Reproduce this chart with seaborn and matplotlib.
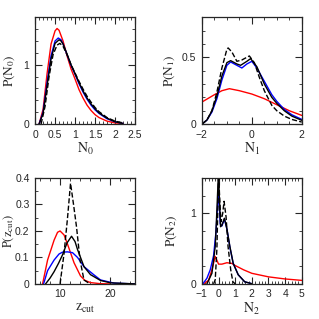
import numpy as np
import pandas as pd
import matplotlib
matplotlib.use('Agg')
import matplotlib.pyplot as plt
from matplotlib.ticker import MultipleLocator, FuncFormatter
import seaborn as sns

# --- panel 1: N0 ---
n0_red_x = [0.1, 0.2, 0.3, 0.4, 0.5, 0.55, 0.6, 0.7, 0.8, 0.9, 1.0, 1.1, 1.2, 1.3, 1.4, 1.5, 1.6, 1.8, 2.0, 2.2]
n0_red_y = [0.0, 0.25, 0.85, 1.35, 1.57, 1.61, 1.58, 1.40, 1.15, 0.93, 0.76, 0.58, 0.44, 0.32, 0.23, 0.16, 0.11, 0.05, 0.02, 0.01]
n0_blue_x = [0.1, 0.2, 0.3, 0.4, 0.5, 0.58, 0.65, 0.7, 0.8, 0.9, 1.0, 1.1, 1.2, 1.3, 1.4, 1.5, 1.6, 1.8, 2.0, 2.2]
n0_blue_y = [0.0, 0.2, 0.7, 1.15, 1.40, 1.45, 1.42, 1.35, 1.17, 0.99, 0.84, 0.68, 0.54, 0.42, 0.32, 0.24, 0.18, 0.09, 0.04, 0.01]
n0_black_x = [0.1, 0.2, 0.3, 0.4, 0.5, 0.6, 0.65, 0.7, 0.8, 0.9, 1.0, 1.1, 1.2, 1.3, 1.4, 1.5, 1.6, 1.8, 2.0, 2.2]
n0_black_y = [0.0, 0.18, 0.65, 1.1, 1.36, 1.42, 1.40, 1.35, 1.18, 1.0, 0.85, 0.70, 0.56, 0.44, 0.34, 0.26, 0.19, 0.10, 0.04, 0.01]
n0_dash_x = [0.15, 0.25, 0.35, 0.45, 0.55, 0.62, 0.7, 0.8, 0.9, 1.0, 1.1, 1.2, 1.3, 1.4, 1.5, 1.6, 1.8, 2.0, 2.2]
n0_dash_y = [0.0, 0.3, 0.8, 1.17, 1.33, 1.36, 1.31, 1.17, 1.0, 0.86, 0.72, 0.59, 0.47, 0.37, 0.28, 0.21, 0.11, 0.05, 0.02]

# --- panel 2: N1 ---
n1_red_x = [-2.0, -1.5, -1.2, -0.9, -0.5, 0.0, 0.5, 1.0, 1.5, 2.0]
n1_red_y = [0.165, 0.22, 0.25, 0.265, 0.25, 0.225, 0.19, 0.145, 0.10, 0.065]
n1_blue_x = [-2.0, -1.8, -1.6, -1.4, -1.2, -1.0, -0.85, -0.6, -0.4, -0.2, 0.0, 0.2, 0.5, 0.8, 1.0, 1.3, 1.6, 2.0]
n1_blue_y = [0.0, 0.03, 0.09, 0.19, 0.33, 0.44, 0.465, 0.44, 0.42, 0.45, 0.47, 0.42, 0.32, 0.22, 0.17, 0.11, 0.07, 0.035]
n1_black_x = [-2.0, -1.8, -1.6, -1.4, -1.2, -1.0, -0.85, -0.6, -0.45, -0.2, -0.05, 0.2, 0.5, 0.8, 1.0, 1.3, 1.6, 2.0]
n1_black_y = [0.0, 0.03, 0.10, 0.21, 0.36, 0.46, 0.475, 0.45, 0.44, 0.47, 0.49, 0.43, 0.30, 0.20, 0.155, 0.10, 0.06, 0.028]
n1_dash_x = [-2.0, -1.8, -1.6, -1.4, -1.2, -1.0, -0.95, -0.8, -0.6, -0.4, -0.1, 0.1, 0.3, 0.5, 0.8, 1.0, 1.3, 1.6, 2.0]
n1_dash_y = [0.0, 0.03, 0.10, 0.24, 0.42, 0.56, 0.57, 0.54, 0.47, 0.48, 0.51, 0.46, 0.35, 0.25, 0.14, 0.10, 0.06, 0.035, 0.015]

# --- panel 3: z_cut ---
z_red_x = [6.5, 7.5, 8.8, 9.5, 10.0, 10.8, 11.5, 12.8, 14.1, 15.0, 16.1, 18.0, 20.0]
z_red_y = [0.0, 0.09, 0.165, 0.195, 0.20, 0.185, 0.15, 0.08, 0.03, 0.013, 0.005, 0.001, 0.0]
z_blue_x = [6.7, 7.5, 8.8, 9.8, 10.5, 11.5, 12.5, 13.5, 14.8, 16.8, 18.1, 20.8, 25.0]
z_blue_y = [0.0, 0.05, 0.09, 0.113, 0.12, 0.121, 0.118, 0.10, 0.065, 0.034, 0.015, 0.003, 0.0]
z_black_x = [7.1, 8.0, 8.8, 9.7, 10.5, 11.4, 12.3, 13.0, 13.5, 14.8, 16.1, 18.1, 20.1, 25.0]
z_black_y = [0.0, 0.022, 0.046, 0.078, 0.11, 0.155, 0.18, 0.16, 0.13, 0.065, 0.035, 0.013, 0.004, 0.0]
z_dash_x = [10.0, 10.8, 11.5, 12.1, 12.7, 13.3, 14.0, 14.8, 16.0]
z_dash_y = [0.0, 0.115, 0.25, 0.38, 0.30, 0.215, 0.09, 0.015, 0.0]

# --- panel 4: N2 ---
n2_red_x = [-0.9, -0.6, -0.4, -0.2, 0.0, 0.2, 0.5, 0.8, 1.0, 1.5, 2.0, 3.0, 4.0, 5.0]
n2_red_y = [0.0, 0.05, 0.2, 0.39, 0.28, 0.28, 0.30, 0.29, 0.26, 0.20, 0.15, 0.10, 0.07, 0.05]
n2_blue_x = [-0.95, -0.7, -0.5, -0.3, -0.15, -0.05, 0.0, 0.1, 0.2, 0.35, 0.5, 0.68, 0.88, 1.18, 1.57, 1.97]
n2_blue_y = [0.0, 0.08, 0.2, 0.4, 0.75, 1.15, 1.31, 0.85, 0.82, 0.92, 0.78, 0.52, 0.29, 0.13, 0.03, 0.005]
n2_black_x = [-0.7, -0.4, -0.2, -0.1, -0.03, 0.0, 0.05, 0.12, 0.2, 0.35, 0.5, 0.68, 0.88, 1.18, 1.57, 1.97]
n2_black_y = [0.0, 0.15, 0.53, 1.05, 1.45, 1.6, 1.2, 0.81, 0.83, 0.93, 0.78, 0.53, 0.29, 0.13, 0.03, 0.005]
n2_dash_x = [-0.3, -0.2, -0.1, -0.03, 0.0, 0.05, 0.14, 0.25, 0.33, 0.45, 0.57, 0.73, 0.86, 1.0]
n2_dash_y = [0.0, 0.06, 0.5, 1.2, 1.6, 1.3, 0.88, 1.0, 1.17, 0.95, 0.53, 0.2, 0.03, 0.0]

sns.set_style('ticks')
plt.rcParams['font.family'] = ['Liberation Sans', 'DejaVu Sans']
plt.rcParams['mathtext.fontset'] = 'stix'

fig = plt.figure(figsize=(3.19, 3.19), dpi=100)
pos = [[0.110, 0.611, 0.313, 0.335], [0.633, 0.611, 0.313, 0.335],
       [0.110, 0.110, 0.313, 0.332], [0.633, 0.110, 0.313, 0.332]]
ylab_x = [-0.185, -0.25, -0.195, -0.23]
ylab_size = [9.5, 9.5, 9, 9.5]

fmt = FuncFormatter(lambda v, _: ('%g' % v).replace('-', '\u2212'))

panels = [
    dict(curves=[(n0_red_x, n0_red_y, 'red', '-'), (n0_blue_x, n0_blue_y, 'blue', '-'),
                 (n0_dash_x, n0_dash_y, 'black', '--'), (n0_black_x, n0_black_y, 'black', '-')],
         xlim=(0, 2.5), ylim=(0, 1.8), xmaj=0.5, xmin=0.1, ymaj=1, ymin=0.2,
         xlabel=r'$\mathrm{N_0}$', ylabel=r'$\mathrm{P(N_0)}$'),
    dict(curves=[(n1_red_x, n1_red_y, 'red', '-'), (n1_blue_x, n1_blue_y, 'blue', '-'),
                 (n1_dash_x, n1_dash_y, 'black', '--'), (n1_black_x, n1_black_y, 'black', '-')],
         xlim=(-2, 2), ylim=(0, 0.8), xmaj=2, xmin=0.5, ymaj=0.5, ymin=0.1,
         xlabel=r'$\mathrm{N_1}$', ylabel=r'$\mathrm{P(N_1)}$'),
    dict(curves=[(z_red_x, z_red_y, 'red', '-'), (z_blue_x, z_blue_y, 'blue', '-'),
                 (z_dash_x, z_dash_y, 'black', '--'), (z_black_x, z_black_y, 'black', '-')],
         xlim=(5, 25), ylim=(0, 0.4), xmaj=10, xmin=2, ymaj=0.1, ymin=0.05,
         xlabel=r'$\mathrm{z_{cut}}$', ylabel=r'$\mathrm{P(z_{cut})}$'),
    dict(curves=[(n2_red_x, n2_red_y, 'red', '-'), (n2_blue_x, n2_blue_y, 'blue', '-'),
                 (n2_dash_x, n2_dash_y, 'black', '--'), (n2_black_x, n2_black_y, 'black', '-')],
         xlim=(-1, 5), ylim=(0, 1.5), xmaj=1, xmin=0.2, ymaj=1, ymin=0.25,
         xlabel=r'$\mathrm{N_2}$', ylabel=r'$\mathrm{P(N_2)}$'),
]

for p, rect, lx, ls_ in zip(panels, pos, ylab_x, ylab_size):
    ax = fig.add_axes(rect)
    for xs, ys, col, ls in p['curves']:
        df = pd.DataFrame({'x': xs, 'y': ys})
        sns.lineplot(data=df, x='x', y='y', ax=ax, color=col, linestyle=ls,
                     linewidth=1.0, sort=False, estimator=None)
    ax.set_xlim(*p['xlim'])
    ax.set_ylim(*p['ylim'])
    ax.xaxis.set_major_locator(MultipleLocator(p['xmaj']))
    ax.xaxis.set_minor_locator(MultipleLocator(p['xmin']))
    ax.yaxis.set_major_locator(MultipleLocator(p['ymaj']))
    ax.yaxis.set_minor_locator(MultipleLocator(p['ymin']))
    ax.xaxis.set_major_formatter(fmt)
    ax.yaxis.set_major_formatter(fmt)
    ax.tick_params(which='both', direction='in', top=True, right=True, labelsize=7.5)
    ax.tick_params(axis='x', which='major', pad=4)
    ax.tick_params(axis='y', which='major', pad=4)
    ax.tick_params(which='major', length=5, width=0.8)
    ax.tick_params(which='minor', length=2.5, width=0.6)
    ax.set_xlabel(p['xlabel'], fontsize=10, labelpad=1)
    ax.set_ylabel(p['ylabel'], fontsize=ls_)
    ax.yaxis.set_label_coords(lx, 0.5)
    for s in ax.spines.values():
        s.set_linewidth(0.9)

fig.savefig('out.png', dpi=100)
